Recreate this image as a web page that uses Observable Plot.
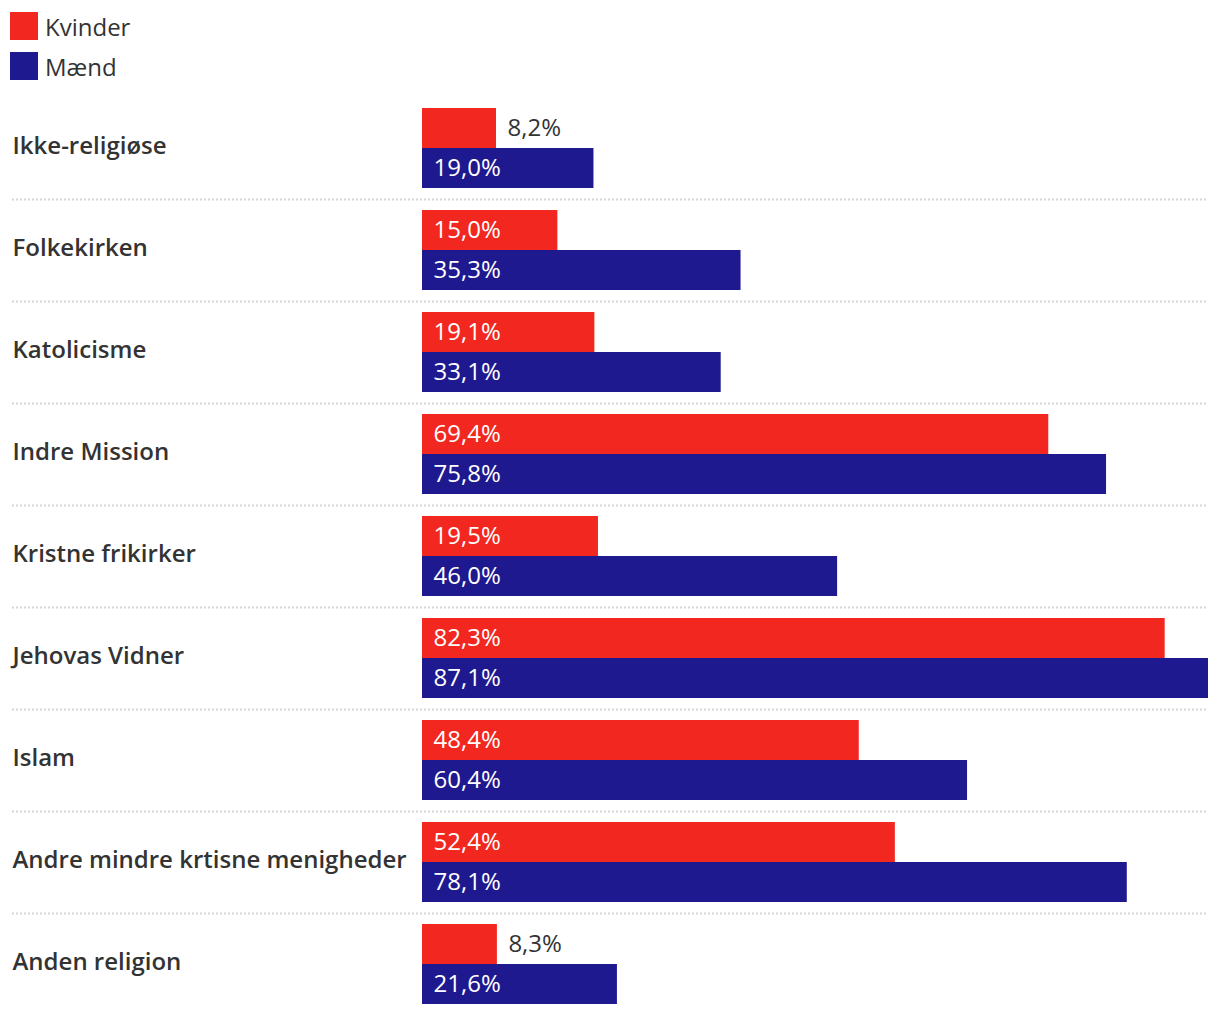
<!DOCTYPE html>
<html>
<head>
<meta charset="utf-8">
<script src="https://cdn.jsdelivr.net/npm/d3@7"></script>
<script src="https://cdn.jsdelivr.net/npm/@observablehq/plot@0.6"></script>
<style>
  body { margin: 0; background: #fff; font-family: "Open Sans", "Noto Sans", sans-serif; }
  #legend { height: 90px; position: relative; }
  .item { position: absolute; left: 10px; display: flex; align-items: center; font-size: 24px; color: #333; height: 28px; }
  .sw { width: 28px; height: 28px; margin-right: 7px; }
</style>
</head>
<body>
<div id="legend"></div>
<div id="chart"></div>
<script>
const categories = ["Ikke-religiøse", "Folkekirken", "Katolicisme", "Indre Mission", "Kristne frikirker", "Jehovas Vidner", "Islam", "Andre mindre krtisne menigheder", "Anden religion"];
const kvinder = [8.2, 15.0, 19.1, 69.4, 19.5, 82.3, 48.4, 52.4, 8.3];
const maend = [19.0, 35.3, 33.1, 75.8, 46.0, 87.1, 60.4, 78.1, 21.6];
const seriesNames = ["Kvinder", "Mænd"];
const seriesColors = ["#f22820", "#1f198f"];

const legend = document.getElementById("legend");
seriesNames.forEach((name, i) => {
  const it = document.createElement("div");
  it.className = "item";
  it.style.top = (12 + i * 40) + "px";
  it.innerHTML = `<div class="sw" style="background:${seriesColors[i]}"></div><span>${name}</span>`;
  legend.appendChild(it);
});

const data = [];
categories.forEach((c, i) => {
  data.push({category: c, series: "Kvinder", value: kvinder[i]});
  data.push({category: c, series: "Mænd", value: maend[i]});
});
const fmt = v => v.toFixed(1).replace(".", ",") + "%";
const inside = d => d.value >= 10;
const red = data.filter(d => d.series === "Kvinder");
const blue = data.filter(d => d.series === "Mænd");

const chart = Plot.plot({
  width: 1220,
  height: 925,
  marginTop: 7,
  marginBottom: 0,
  marginLeft: 422,
  marginRight: 12,
  style: {fontFamily: "'Open Sans', 'Noto Sans', sans-serif"},
  x: {domain: [0, d3.max(data, d => d.value)], axis: null},
  y: {domain: categories, padding: 0, axis: null},
  marks: [
    Plot.ruleY(categories.slice(0, -1), {y: d => d, dy: 51, stroke: "#d6d6d6", strokeWidth: 2, strokeDasharray: "2,2", insetLeft: -410}),
    Plot.barX(red, {x: "value", y: "category", fill: seriesColors[0], insetTop: 11, insetBottom: 51}),
    Plot.barX(blue, {x: "value", y: "category", fill: seriesColors[1], insetTop: 51, insetBottom: 11}),
    Plot.text(red.filter(inside), {x: 0, y: "category", dy: -20, dx: 11, text: d => fmt(d.value), textAnchor: "start", fill: "white", fontSize: 24}),
    Plot.text(blue.filter(inside), {x: 0, y: "category", dy: 20, dx: 11, text: d => fmt(d.value), textAnchor: "start", fill: "white", fontSize: 24}),
    Plot.text(red.filter(d => !inside(d)), {x: "value", y: "category", dy: -20, dx: 11, text: d => fmt(d.value), textAnchor: "start", fill: "#333", fontSize: 24}),
    Plot.text(blue.filter(d => !inside(d)), {x: "value", y: "category", dy: 20, dx: 11, text: d => fmt(d.value), textAnchor: "start", fill: "#333", fontSize: 24}),
    Plot.axisY({anchor: "left", tickSize: 0, tickPadding: 0, textAnchor: "start", dx: -410, dy: -2, fontSize: 24, fontWeight: 600, fill: "#333", label: null})
  ]
});
document.getElementById("chart").appendChild(chart);
</script>
</body>
</html>
